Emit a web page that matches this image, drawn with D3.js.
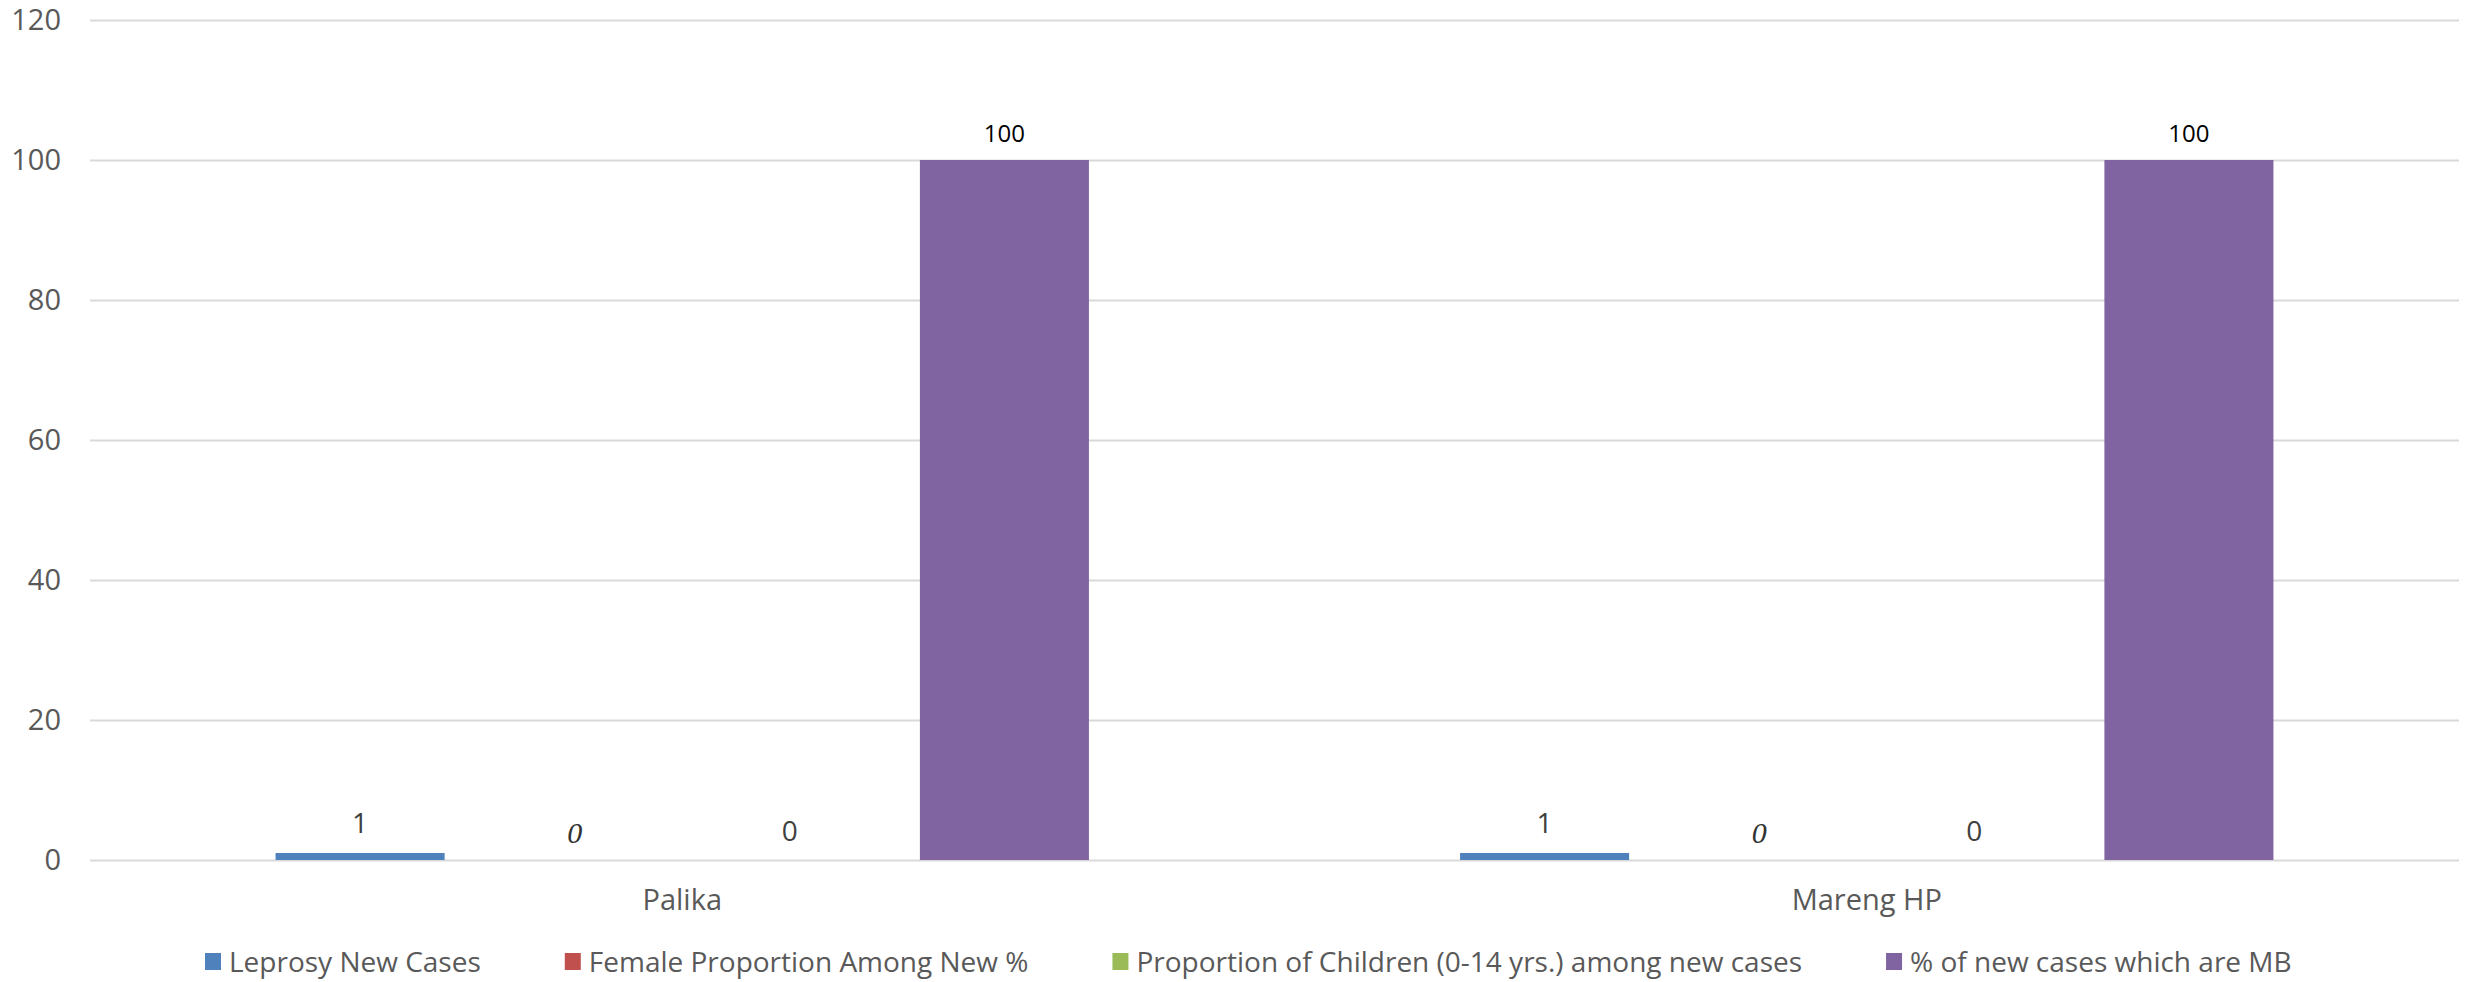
<!DOCTYPE html>
<html>
<head>
<meta charset="utf-8">
<script src="https://cdn.jsdelivr.net/npm/d3@7"></script>
<style>
    body { margin: 0; background: #fff; overflow: hidden; }
    svg { display: block; }
    text { font-family: "Open Sans", "Noto Sans", sans-serif; }
</style>
</head>
<body>
<svg id="chart"></svg>
<script>
const width = 2476,
    height = 982;

const margin = {top: 20, right: 17, bottom: 122, left: 90}

const categories = ["Palika", "Mareng HP"];
const seriesNames = [
    "Leprosy New Cases",
    "Female Proportion Among New %",
    "Proportion of Children (0-14 yrs.) among new cases",
    "% of new cases which are MB"
];
const leprosyNewCases = [1, 1],
    femaleProportion = [0, 0],
    childrenProportion = [0, 0],
    mbProportion = [100, 100];
const yTicks = [0, 20, 40, 60, 80, 100, 120];

const colors = ["#4f81bd", "#c0504d", "#9bbb59", "#8064a2"];
const seriesValues = [leprosyNewCases, femaleProportion, childrenProportion, mbProportion];

// label styles per series, the way the original sheet shows them
const labelStyle = [
    {fill: "#404040", size: 28, family: null, italic: false, gap: 20},
    {fill: "#333", size: 30, family: "'Liberation Serif', 'DejaVu Serif', serif", italic: true, gap: 17},
    {fill: "#404040", size: 28, family: null, italic: false, gap: 19},
    {fill: "#000", size: 24, family: null, italic: false, gap: 18}
];

let svg = d3.select("#chart").attr("width", width).attr("height", height)

let x0 = d3.scaleBand().domain(categories).range([margin.left, width - margin.right]);
let x1 = d3.scaleBand().domain(d3.range(seriesNames.length))
    .range([0, x0.bandwidth()])
    .paddingInner(0.213)
    .paddingOuter(0.864);
let y = d3.scaleLinear().domain([0, 120]).range([height - margin.bottom, margin.top]);

// gridlines
let grid = svg.append("g")
    .attr("transform", `translate(${margin.left},0)`)
    .call(d3.axisLeft(y).tickValues(yTicks).tickSize(-(width - margin.left - margin.right)).tickFormat(""))
grid.select(".domain").remove()
grid.selectAll("line").attr("stroke", "#d9d9d9").attr("stroke-width", 2)

// y tick labels
svg.append("g").selectAll("text").data(yTicks).enter().append("text")
    .attr("x", 61)
    .attr("y", d => y(d))
    .attr("dy", "0.36em")
    .attr("text-anchor", "end")
    .attr("font-size", 29)
    .attr("fill", "#595959")
    .text(d => d)

// bars
let rows = [];
categories.forEach((c, ci) => seriesValues.forEach((vals, si) => rows.push({cat: c, s: si, v: vals[ci]})))

let bars = svg.append("g")
bars.selectAll("rect").data(rows).enter().append("rect")
    .attr("x", d => x0(d.cat) + x1(d.s))
    .attr("y", d => y(d.v))
    .attr("width", x1.bandwidth())
    .attr("height", d => y(0) - y(d.v))
    .attr("fill", d => colors[d.s])

// data labels
svg.append("g").selectAll("text").data(rows).enter().append("text")
    .attr("x", d => x0(d.cat) + x1(d.s) + x1.bandwidth() / 2)
    .attr("y", d => y(d.v) - labelStyle[d.s].gap)
    .attr("text-anchor", "middle")
    .attr("font-size", d => labelStyle[d.s].size)
    .attr("font-style", d => labelStyle[d.s].italic ? "italic" : "normal")
    .attr("fill", d => labelStyle[d.s].fill)
    .style("font-family", d => labelStyle[d.s].family)
    .text(d => d.v)

// category labels
svg.append("g").selectAll("text").data(categories).enter().append("text")
    .attr("x", d => x0(d) + x0.bandwidth() / 2)
    .attr("y", 910)
    .attr("text-anchor", "middle")
    .attr("font-size", 29)
    .attr("fill", "#595959")
    .text(d => d)

// legend
let legend = svg.append("g")
let items = legend.selectAll("g").data(seriesNames).enter().append("g")
items.append("rect")
    .attr("width", 16).attr("height", 17)
    .attr("y", -9)
    .attr("fill", (d, i) => colors[i])
items.append("text")
    .attr("x", 24)
    .attr("dy", "0.35em")
    .attr("font-size", 28)
    .attr("fill", "#595959")
    .text(d => d)

let pos = 0;
items.each(function() {
    let w = this.querySelector("text").getComputedTextLength();
    d3.select(this).attr("transform", `translate(${pos},0)`);
    pos += 24 + w + 84;
})
legend.attr("transform", `translate(205,962)`)
</script>
</body>
</html>
